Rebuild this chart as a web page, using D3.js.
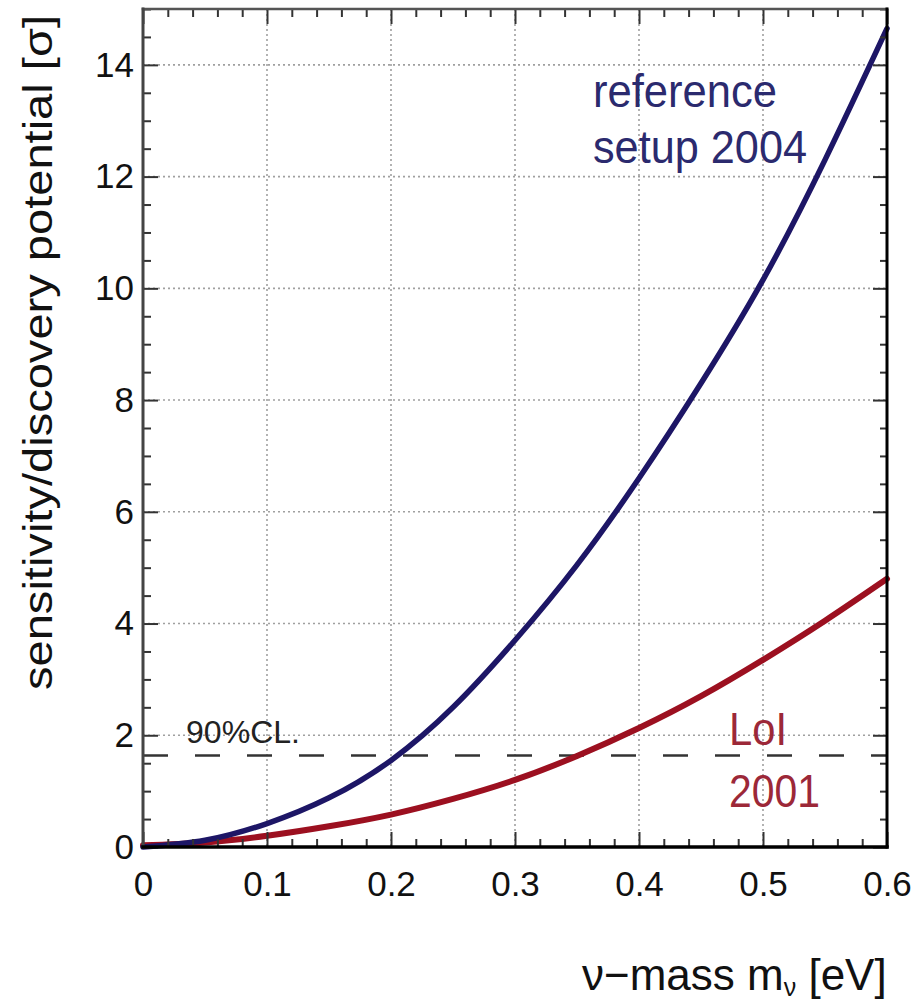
<!DOCTYPE html>
<html>
<head>
<meta charset="utf-8">
<script src="https://cdn.jsdelivr.net/npm/d3@7"></script>
<style>
  html, body { margin: 0; padding: 0; background: #fff; }
  svg { display: block; font-family: "Liberation Sans", Arial, sans-serif; }
</style>
</head>
<body>
<svg id="chart" width="918" height="1005"></svg>
<script>
// neutrino mass values [eV] at which both curves are sampled
const massValues = [0, 0.05, 0.1, 0.15, 0.2, 0.25, 0.3, 0.35, 0.4, 0.45, 0.5, 0.55, 0.6];
// sensitivity / discovery potential [sigma]
const referenceSetup2004 = [0, 0.12, 0.42, 0.88, 1.55, 2.5, 3.7, 5.05, 6.6, 8.3, 10.15, 12.3, 14.65];
const loi2001 = [0.03, 0.08, 0.2, 0.37, 0.58, 0.86, 1.2, 1.63, 2.13, 2.7, 3.35, 4.05, 4.8];
// 90% confidence level threshold
const clLevel = [1.64];
const xTicks = [0, 0.1, 0.2, 0.3, 0.4, 0.5, 0.6];
const yTicks = [0, 2, 4, 6, 8, 10, 12, 14];

const svg = d3.select("#chart");
const plotLeft = 143, plotRight = 887, plotTop = 9, plotBottom = 847;

const x = d3.scaleLinear().domain([0, 0.6]).range([plotLeft, plotRight]);
const y = d3.scaleLinear().domain([0, 15]).range([plotBottom, plotTop]);

const xMinor = d3.range(0, 0.6001, 0.02).filter(v => Math.abs(v * 10 - Math.round(v * 10)) > 1e-6);
const yMinor = d3.range(0, 15.001, 0.5).filter(v => Math.abs(v / 2 - Math.round(v / 2)) > 1e-6);

// dotted grid
const grid = svg.append("g").attr("stroke", "#a0a0a0").attr("stroke-width", 1.6).attr("stroke-dasharray", "2,3");
grid.selectAll(".gx").data(xTicks.slice(1, -1)).join("line")
  .attr("x1", d => x(d)).attr("x2", d => x(d)).attr("y1", plotTop).attr("y2", plotBottom);
grid.selectAll(".gy").data(yTicks.slice(1)).join("line")
  .attr("x1", plotLeft).attr("x2", plotRight).attr("y1", d => y(d)).attr("y2", d => y(d));

// 90% CL dashed line
svg.append("g").selectAll("line").data(clLevel).join("line")
  .attr("x1", plotLeft).attr("x2", plotRight).attr("y1", d => y(d)).attr("y2", d => y(d))
  .attr("stroke", "#333").attr("stroke-width", 2.5).attr("stroke-dasharray", "25,27");

svg.append("text").attr("x", 186).attr("y", 743).attr("font-size", 31).attr("fill", "#222")
  .attr("textLength", 114).attr("lengthAdjust", "spacingAndGlyphs").text("90%CL.");

// curves
const line = d3.line().x((d, i) => x(massValues[i])).y(d => y(d)).curve(d3.curveNatural);
svg.append("path").datum(loi2001).attr("d", line).attr("fill", "none")
  .attr("stroke", "#9c1020").attr("stroke-width", 6).attr("stroke-linecap", "round");
svg.append("path").datum(referenceSetup2004).attr("d", line).attr("fill", "none")
  .attr("stroke", "#1d1666").attr("stroke-width", 5.5).attr("stroke-linecap", "round");

// axes with inward ticks
function styleAxis(g) {
  g.select(".domain").remove();
  g.selectAll(".tick line").attr("stroke", "#333").attr("stroke-width", 2);
  g.selectAll(".tick text").attr("fill", "#111").attr("font-size", 35)
    .attr("font-family", "Liberation Sans, Arial, sans-serif");
}
svg.append("g").attr("transform", `translate(0,${plotBottom})`)
  .call(d3.axisBottom(x).tickValues(xTicks).tickSize(-15).tickPadding(24).tickFormat(d => d === 0 ? "0" : d3.format(".1f")(d)))
  .call(styleAxis);
svg.append("g").attr("transform", `translate(0,${plotBottom})`)
  .call(d3.axisBottom(x).tickValues(xMinor).tickSize(-8).tickFormat(""))
  .call(styleAxis);
svg.append("g").attr("transform", `translate(0,${plotTop})`)
  .call(d3.axisTop(x).tickValues(xTicks).tickSize(-15).tickFormat(""))
  .call(styleAxis);
svg.append("g").attr("transform", `translate(0,${plotTop})`)
  .call(d3.axisTop(x).tickValues(xMinor).tickSize(-8).tickFormat(""))
  .call(styleAxis);
svg.append("g").attr("transform", `translate(${plotLeft},0)`)
  .call(d3.axisLeft(y).tickValues(yTicks).tickSize(-15).tickPadding(9).tickFormat(d3.format("d")))
  .call(styleAxis);
svg.append("g").attr("transform", `translate(${plotLeft},0)`)
  .call(d3.axisLeft(y).tickValues(yMinor).tickSize(-8).tickFormat(""))
  .call(styleAxis);
svg.append("g").attr("transform", `translate(${plotRight},0)`)
  .call(d3.axisRight(y).tickValues(yTicks).tickSize(-14).tickFormat(""))
  .call(styleAxis);
svg.append("g").attr("transform", `translate(${plotRight},0)`)
  .call(d3.axisRight(y).tickValues(yMinor).tickSize(-7).tickFormat(""))
  .call(styleAxis);

// frame
const frame = svg.append("g").attr("stroke-linecap", "square");
frame.append("line").attr("x1", plotLeft).attr("x2", plotRight).attr("y1", plotTop).attr("y2", plotTop).attr("stroke", "#555").attr("stroke-width", 2.5);
frame.append("line").attr("x1", plotLeft).attr("x2", plotLeft).attr("y1", plotTop).attr("y2", plotBottom).attr("stroke", "#444").attr("stroke-width", 3);
frame.append("line").attr("x1", plotRight).attr("x2", plotRight).attr("y1", plotTop).attr("y2", plotBottom).attr("stroke", "#000").attr("stroke-width", 3);
frame.append("line").attr("x1", plotLeft).attr("x2", plotRight).attr("y1", plotBottom).attr("y2", plotBottom).attr("stroke", "#000").attr("stroke-width", 3.5);

// curve labels
const blueText = "#2b2a6e", redText = "#9c2838";
svg.append("text").attr("x", 593).attr("y", 107).attr("font-size", 46).attr("fill", blueText)
  .attr("textLength", 184).attr("lengthAdjust", "spacingAndGlyphs").text("reference");
svg.append("text").attr("x", 593).attr("y", 163).attr("font-size", 46).attr("fill", blueText)
  .attr("textLength", 214).attr("lengthAdjust", "spacingAndGlyphs").text("setup 2004");
svg.append("text").attr("x", 729).attr("y", 745).attr("font-size", 46).attr("fill", redText)
  .attr("textLength", 58).attr("lengthAdjust", "spacingAndGlyphs").text("LoI");
svg.append("text").attr("x", 729).attr("y", 807).attr("font-size", 47).attr("fill", redText)
  .attr("textLength", 91).attr("lengthAdjust", "spacingAndGlyphs").text("2001");

// axis titles
const xt = svg.append("text").attr("x", 582).attr("y", 990).attr("font-size", 44).attr("fill", "#111");
xt.append("tspan").text("\u03bd\u2212mass m");
xt.append("tspan").attr("font-size", 25).attr("dy", 6).text("\u03bd");
xt.append("tspan").attr("dy", -6).text(" [eV]");

svg.append("text").attr("transform", "translate(52,690) rotate(-90)")
  .attr("font-size", 40).attr("fill", "#111")
  .attr("textLength", 675).attr("lengthAdjust", "spacingAndGlyphs")
  .text("sensitivity/discovery potential [\u03c3]");
</script>
</body>
</html>
